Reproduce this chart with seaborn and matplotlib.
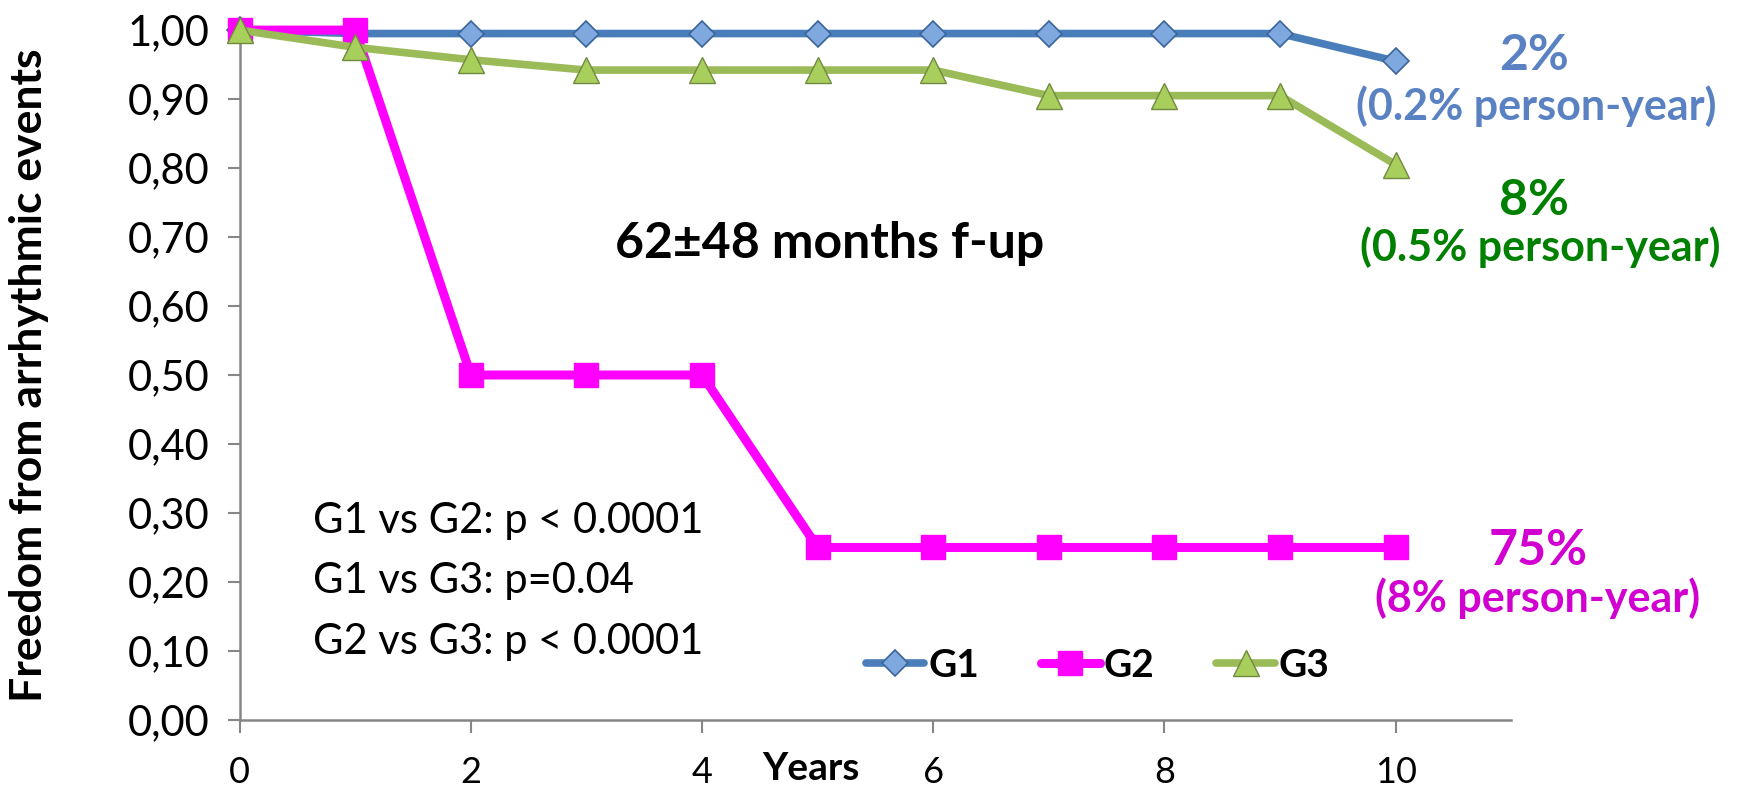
import pandas as pd
import matplotlib
matplotlib.use("Agg")
import matplotlib.pyplot as plt
import seaborn as sns

# data
years = [0, 1, 2, 3, 4, 5, 6, 7, 8, 9, 10]
g1 = [1.00, 0.995, 0.995, 0.995, 0.995, 0.995, 0.995, 0.995, 0.995, 0.995, 0.955]
g2 = [1.00, 1.00, 0.50, 0.50, 0.50, 0.25, 0.25, 0.25, 0.25, 0.25, 0.25]
g3 = [1.00, 0.975, 0.957, 0.942, 0.942, 0.942, 0.942, 0.905, 0.905, 0.905, 0.805]
group_names = ['G1', 'G2', 'G3']
y_ticks = [0.0, 0.1, 0.2, 0.3, 0.4, 0.5, 0.6, 0.7, 0.8, 0.9, 1.0]
x_ticks = [0, 2, 4, 6, 8, 10]
pvalue_lines = ['G1 vs G2: p < 0.0001', 'G1 vs G3: p=0.04', 'G2 vs G3: p < 0.0001']

df = pd.DataFrame({'years': years * 3,
                   'freedom': g1 + g2 + g3,
                   'group': [g for g in group_names for _ in years]})

sns.set_theme(style='white')
plt.rcParams['font.family'] = ['Lato', 'DejaVu Sans']
plt.rcParams['text.color'] = 'black'
plt.rcParams['axes.labelcolor'] = 'black'

fig = plt.figure(figsize=(17.37, 7.92), dpi=100)
ax = fig.add_axes([0.138, 0.091, 0.732, 0.871])

#line style per group
styles = {
    'G1': dict(color='#4A7EBB', marker='D', markersize=13, linewidth=5.5,
               markerfacecolor='#7FA8DE', markeredgecolor='#3A659A', markeredgewidth=1.2),
    'G2': dict(color='#FF00FF', marker='s', markersize=17, linewidth=6.5,
               markerfacecolor='#FF00FF', markeredgecolor='#FF00FF', markeredgewidth=1),
    'G3': dict(color='#9BBB59', marker='^', markersize=19, linewidth=5.5,
               markerfacecolor='#A8CF5C', markeredgecolor='#71893F', markeredgewidth=1),
}
for g in group_names:
    sub = df[df['group'] == g]
    sns.lineplot(data=sub, x='years', y='freedom', ax=ax, label=g,
                 clip_on=False, zorder=3, **styles[g])

ax.set_xlim(0, 11)
ax.set_ylim(0, 1.0)
ax.set_xticks(x_ticks)
ax.set_yticks(y_ticks)
ax.set_yticklabels([f'{v:.2f}'.replace('.', ',') for v in y_ticks])
ax.tick_params(axis='both', colors='#868686', length=9, width=1.5,
               direction='out', labelcolor='black', left=True, bottom=True)
ax.tick_params(axis='x', pad=17, labelsize=26)
ax.tick_params(axis='y', pad=13, labelsize=30)
for side in ['top', 'right']:
    ax.spines[side].set_visible(False)
for side in ['left', 'bottom']:
    ax.spines[side].set_color('#868686')
    ax.spines[side].set_linewidth(1.8)

ax.set_xlabel('')
ax.set_ylabel('Freedom from arrhythmic events', fontsize=32, fontweight='bold', va='center')
ax.yaxis.set_label_coords(-0.166, 0.5)
fig.text(0.467, 0.03, 'Years', fontsize=28, fontweight='bold', ha='center', va='center')

ax.text(5.1, 0.69, '62\u00b148 months f-up', fontsize=36, fontweight='bold',
        ha='center', va='center', color='black')
for i, line in enumerate(pvalue_lines):
    ax.text(0.63, 0.289 - i * 0.088, line, fontsize=30, ha='left', va='center', color='black')

#end-of-follow-up event rates
ax.text(11.2, 0.963, '2%', fontsize=36, fontweight='bold', color='#5A82C2',
        ha='center', va='center', clip_on=False)
ax.text(11.22, 0.89, '(0.2% person-year)', fontsize=31, fontweight='bold', color='#5A82C2',
        ha='center', va='center', clip_on=False)
ax.text(11.2, 0.753, '8%', fontsize=36, fontweight='bold', color='#008000',
        ha='center', va='center', clip_on=False)
ax.text(11.25, 0.685, '(0.5% person-year)', fontsize=31, fontweight='bold', color='#008000',
        ha='center', va='center', clip_on=False)
ax.text(11.23, 0.245, '75%', fontsize=36, fontweight='bold', color='#D100D1',
        ha='center', va='center', clip_on=False)
ax.text(11.23, 0.177, '(8% person-year)', fontsize=31, fontweight='bold', color='#D100D1',
        ha='center', va='center', clip_on=False)

leg = ax.legend(loc='center', bbox_to_anchor=(0.632, 0.16), bbox_transform=fig.transFigure,
                ncol=3, frameon=False, handlelength=1.5, handletextpad=0.1,
                columnspacing=1.6, prop={'size': 28, 'weight': 'bold'})
for t in leg.get_texts():
    t.set_color('black')

fig.savefig('out.png', dpi=100)
